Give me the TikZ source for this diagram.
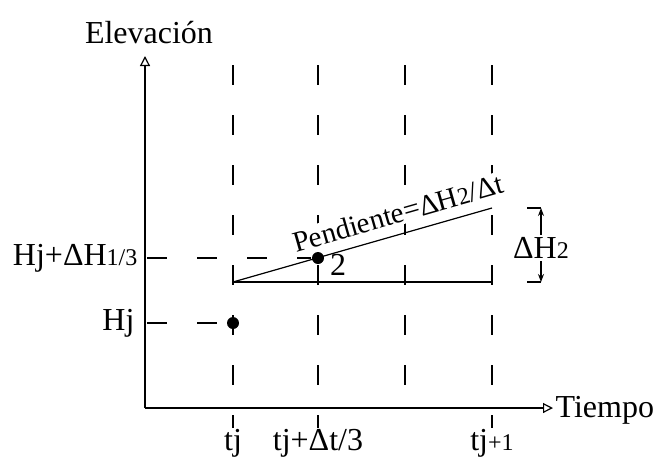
\documentclass[tikz,border=0pt]{standalone}
\usepackage{fontspec}
\setmainfont{Liberation Serif}
\usetikzlibrary{arrows.meta}
\newcommand{\smallidx}[1]{{\fontsize{12}{14}\selectfont #1}}

\begin{document}
\begin{tikzpicture}[x=0.5pt, y=-0.5pt, line width=.6pt,
    lbl/.style={font=\fontsize{16}{19}\selectfont, inner sep=1pt},
    guide/.style={dash pattern=on 10pt off 15pt},
    axis/.style={-{Triangle[open, length=5pt, width=5pt]}},
    pt/.style={circle, fill, inner sep=0pt, minimum size=6pt}]
  \useasboundingbox (0,0) rectangle (654,473);
  % axes
  \coordinate (O) at (145,408);
  \coordinate (ytop) at (145,56);
  \coordinate (xend) at (553,408);
  \draw[axis] (O) -- (ytop);
  \draw[axis] (O) -- (xend);
  \node[lbl] (elev) at (149,33) {Elevación};
  \node[lbl, anchor=west] (tiempo) at (553,410) {Tiempo};
  % time guides
  \foreach \x/\b in {233/428, 318/428, 405/408, 492/428} {
    \coordinate (g\x) at (\x,65);
    \coordinate (b\x) at (\x,\b);
    \draw[guide] (g\x) -- (b\x);
  }
  \node[lbl] (tj) at (233,443) {tj};
  \node[lbl] (tjdt) at (318,443) {tj+Δt/3};
  \node[lbl] (tj1) at (492,443) {tj\smallidx{+1}};
  % points
  \node[pt] (p1) at (233,323) {};
  \node[pt] (p2) at (318,258) {};
  \node[lbl] (n2) at (338,265) {2};
  \coordinate (hj) at (147,323);
  \coordinate (hdh) at (147,258);
  \draw[guide] (hj) -- (p1);
  \draw[guide] (hdh) -- (p2);
  \node[lbl, anchor=east] (lhj) at (137,323) {Hj};
  \node[lbl, anchor=east] (lhdh) at (140,258) {Hj+ΔH\smallidx{1/3}};
  % slope
  \node[lbl, font=\fontsize{14.5}{17}\selectfont, fill=white, rotate=16] (pend) at (398,213) {Pendiente=ΔH\smallidx{2}/Δt};
  \coordinate (s0) at (233,282);
  \coordinate (s1) at (492,282);
  \coordinate (s2) at (492,208);
  \draw (s0) -- (s1);
  \draw (s0) -- (s2);
  % bracket dH2
  \coordinate (bt) at (541,208);
  \coordinate (bb) at (541,282);
  \draw[{Stealth[length=4pt, width=3pt]}-{Stealth[length=4pt, width=3pt]}] (bt) -- (bb);
  \draw (bt) -- ++(-14,0);
  \draw (bb) -- ++(-14,0);
  \node[lbl, fill=white] (dh) at (541,248) {ΔH\smallidx{2}};
\end{tikzpicture}
\end{document}
